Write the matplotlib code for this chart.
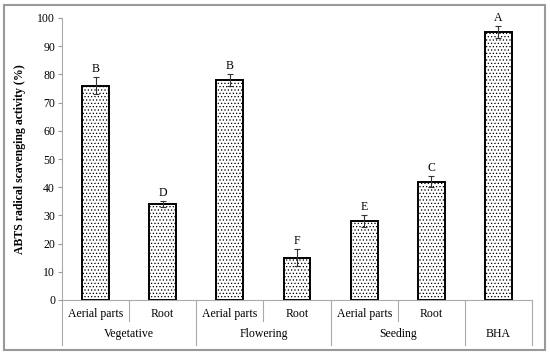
import numpy as np
import matplotlib.pyplot as plt
from matplotlib.patches import Rectangle

plt.rcParams['font.family'] = ['Liberation Serif', 'DejaVu Serif']
plt.rcParams['hatch.color'] = '#b5b5b5'
plt.rcParams['hatch.linewidth'] = 0.5

parts = ['Aerial parts', 'Root', 'Aerial parts', 'Root', 'Aerial parts', 'Root', '']
stages = ['Vegetative', 'Flowering', 'Seeding', 'BHA']
stage_spans = [(0, 1), (2, 3), (4, 5), (6, 6)]
values = [76, 34, 78, 15, 28, 42, 95]
errors = [3, 1, 2, 3, 2, 2, 2]
letters = ['B', 'D', 'B', 'F', 'E', 'C', 'A']

fig = plt.figure(figsize=(5.5, 3.54), dpi=100)
ax = fig.add_axes([62/550, 54/354, 470/550, 282/354])

x = np.arange(len(values))
ax.bar(x, values, width=0.4, color='white', edgecolor='black', linewidth=1.4,
       hatch='.....', zorder=2)
ax.errorbar(x, values, yerr=errors, fmt='none', ecolor='#333333', elinewidth=0.8,
            capsize=2.5, capthick=0.8, zorder=3)
for xi, v, e, l in zip(x, values, errors, letters):
    ax.text(xi, v + e + 0.8, l, ha='center', va='bottom', fontsize=8.5)

ax.set_xlim(-0.5, 6.5)
ax.set_ylim(0, 100)
ax.set_yticks(range(0, 101, 10))
ax.set_xticks([])
ax.tick_params(axis='y', labelsize=8.5, length=3, color='#999999', pad=2)
for s in ['top', 'right']:
    ax.spines[s].set_visible(False)
for s in ['left', 'bottom']:
    ax.spines[s].set_color('#aaaaaa')
    ax.spines[s].set_linewidth(0.8)
ax.set_ylabel('ABTS radical scavenging activity (%)', fontsize=8.5, fontweight='bold', labelpad=8)

# category axis below the plot
trans = ax.get_xaxis_transform()
for xi, p in zip(x, parts):
    ax.text(xi, -0.05, p, transform=trans, ha='center', va='center', fontsize=8.5)
for (a, b), st in zip(stage_spans, stages):
    ax.text((a + b) / 2, -0.122, st, transform=trans, ha='center', va='center', fontsize=8.5)
long_lines = [-0.5, 1.5, 3.5, 5.5, 6.5]
short_lines = [0.5, 2.5, 4.5]
for xl in long_lines:
    ax.plot([xl, xl], [0, -0.16], transform=trans, color='#aaaaaa', lw=0.8, clip_on=False)
for xl in short_lines:
    ax.plot([xl, xl], [0, -0.075], transform=trans, color='#aaaaaa', lw=0.8, clip_on=False)

fig.patches.append(Rectangle((4/550, 4/354), 541/550, 345/354, transform=fig.transFigure,
                             fill=False, edgecolor='#999999', lw=1.5))

fig.savefig('out.png', dpi=100)
